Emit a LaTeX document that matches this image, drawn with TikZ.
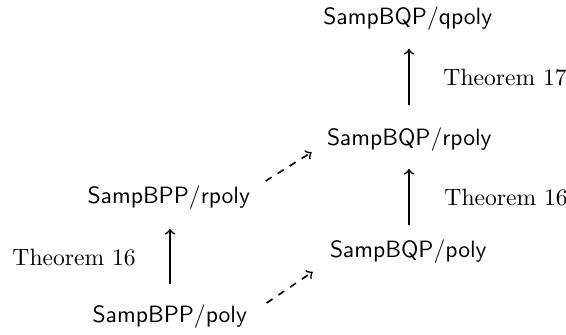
\documentclass[tikz,border=0pt]{standalone}
\begin{document}
\begin{tikzpicture}[x=0.4237pt, y=-0.4237pt,
  cls/.style={anchor=base, inner sep=3.33pt},
  thm/.style={anchor=base west, inner sep=0pt},
  impl/.style={->, line width=0.7pt},
  weak/.style={->, dashed, line width=0.7pt}]
\useasboundingbox (0,0) rectangle (566,334);

% complexity classes
\node[cls] (bqpq) at (408,24)  {$\mathsf{SampBQP}/\mathsf{qpoly}$};
\node[cls] (bqpr) at (409.5,145) {$\mathsf{SampBQP}/\mathsf{rpoly}$};
\node[cls] (bqpp) at (408.5,257) {$\mathsf{SampBQP}/\mathsf{poly}$};
\node[cls] (bppr) at (169,203) {$\mathsf{SampBPP}/\mathsf{rpoly}$};
\node[cls] (bppp) at (170,322) {$\mathsf{SampBPP}/\mathsf{poly}$};

% theorem labels
\node[thm] (t17)  at (443,85)  {Theorem 17};
\node[thm] (t16r) at (444,205) {Theorem 16};
\node[thm] (t16l) at (12,265)  {Theorem 16};

% inclusions
\draw[impl, shorten <=5.8pt, shorten >=4.5pt]
  (bqpr.north -| 409,0) -- (bqpq.south -| 409,0);
\draw[impl, shorten <=2.5pt, shorten >=4.1pt]
  (bqpp.north -| 409,0) -- (bqpr.south -| 409,0);
\draw[impl, shorten <=5pt, shorten >=4.9pt]
  (bppp.north -| 170,0) -- (bppr.south -| 170,0);

\draw[weak] ([shift={(7,4)}]bppr.north east) -- ([shift={(-7,-7)}]bqpr.south west);
\draw[weak] ([shift={(11,7)}]bppp.north east) -- ([shift={(-9,0.6)}]bqpp.south west);
\end{tikzpicture}
\end{document}
